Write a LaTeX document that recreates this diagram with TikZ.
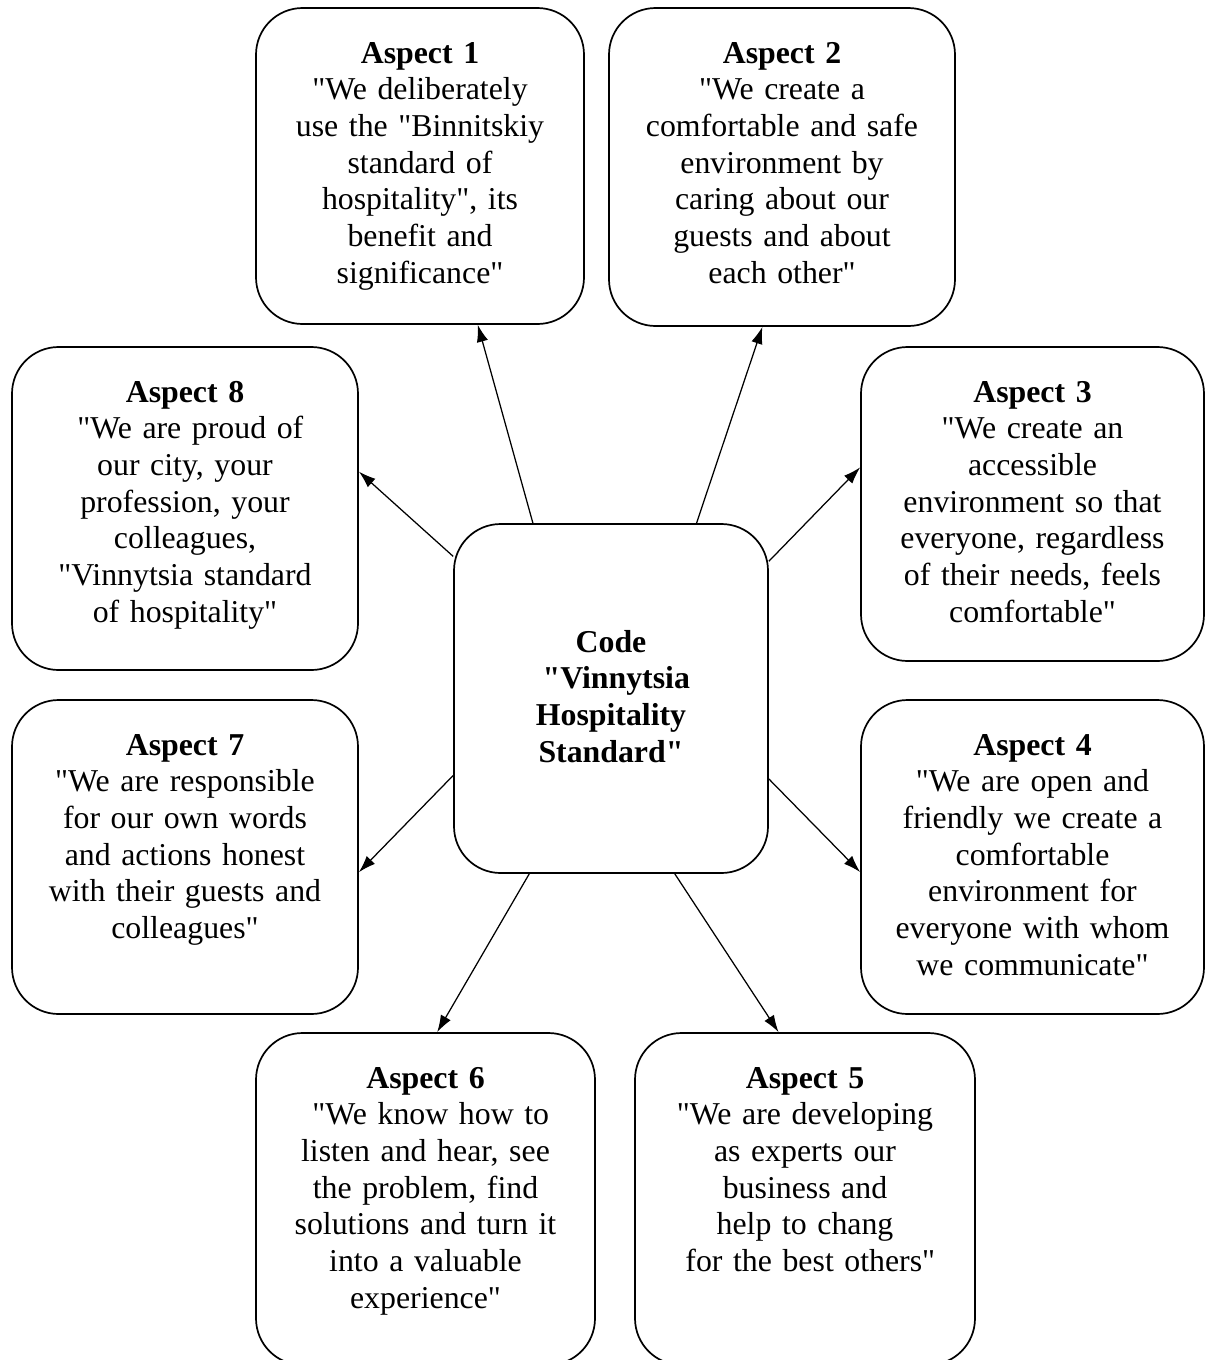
\documentclass[tikz,border=0pt]{standalone}
\usepackage{fontspec}
\setmainfont{Liberation Serif}[Ligatures=TeXOff]
\usetikzlibrary{arrows.meta}

\begin{document}
\begin{tikzpicture}[x=0.44pt, y=-0.44pt]
    % Styles
    \tikzstyle{aspect} = [rectangle, draw=black, line width=0.75pt, rounded corners=20.5pt, align=center, inner sep=0pt, text height=24.2pt, font=\fontsize{14}{16.15}\selectfont]
    \tikzstyle{code} = [aspect, font=\fontsize{14}{16.15}\selectfont\bfseries]
    \tikzstyle{arrow} = [-{Latex[length=7.5pt, width=5pt]}, line width=0.55pt]

    \useasboundingbox (0,0) rectangle (1205,1360);

    % Centre
    \node[code, text width=138.16pt, text height=56.32pt, text depth=97.24pt] (C) at (611,698.5) {Code\\ ~"Vinnytsia\\ Hospitality\\ Standard"};

    % Aspects
    \node[aspect, text width=144.32pt, text depth=114.84pt] (A1) at (420,166) {\textbf{Aspect 1}\\ "We deliberately\\ use the "Binnitskiy\\ standard of\\ hospitality", its\\ benefit and\\ significance"};
    \node[aspect, text width=152.24pt, text depth=115.72pt] (A2) at (782,167) {\textbf{Aspect 2}\\ "We create a\\ comfortable and safe\\ environment by\\ caring about our\\ guests and about\\ each other"};
    \node[aspect, text width=150.92pt, text depth=113.96pt] (A3) at (1032.5,504) {\textbf{Aspect 3}\\ "We create an\\ accessible\\ environment so that\\ everyone, regardless\\ of their needs, feels\\ comfortable"};
    \node[aspect, text width=150.92pt, text depth=113.96pt] (A4) at (1032.5,857) {\textbf{Aspect 4}\\ "We are open and\\ friendly we create a\\ comfortable\\ environment for\\ everyone with whom\\ we communicate"};
    \node[aspect, text width=149.6pt, text depth=121.88pt] (A5) at (805,1199) {\textbf{Aspect 5}\\ "We are developing\\ as experts our\\ business and\\ help to chang\\ ~for the best others"};
    \node[aspect, text width=149.16pt, text depth=121.88pt] (A6) at (425.5,1199) {\textbf{Aspect 6}\\ ~"We know how to\\ listen and hear, see\\ the problem, find\\ solutions and turn it\\ into a valuable\\ experience"};
    \node[aspect, text width=152.24pt, text depth=113.96pt] (A7) at (185,857) {\textbf{Aspect 7}\\ "We are responsible\\ for our own words\\ and actions honest\\ with their guests and\\ colleagues"};
    \node[aspect, text width=152.24pt, text depth=117.92pt] (A8) at (185,508.5) {\textbf{Aspect 8}\\ ~"We are proud of\\ our city, your\\ profession, your\\ colleagues,\\ "Vinnytsia standard\\ of hospitality"};

    % Arrows
    \draw[arrow] (C.114) -- (A1.290);
    \draw[arrow] (C.64.6) -- (A2.263.9);
    \draw[arrow] (C.41.4) -- (A3.168.8);
    \draw[arrow] (C.333.4) -- (A4.185);
    \draw[arrow] (C.290.7) -- (A5.99.9);
    \draw[arrow] (C.245.9) -- (A6.86);
    \draw[arrow] (C.206.6) -- (A7.355);
    \draw[arrow] (C.138.6) -- (A8.12.5);
\end{tikzpicture}
\end{document}
